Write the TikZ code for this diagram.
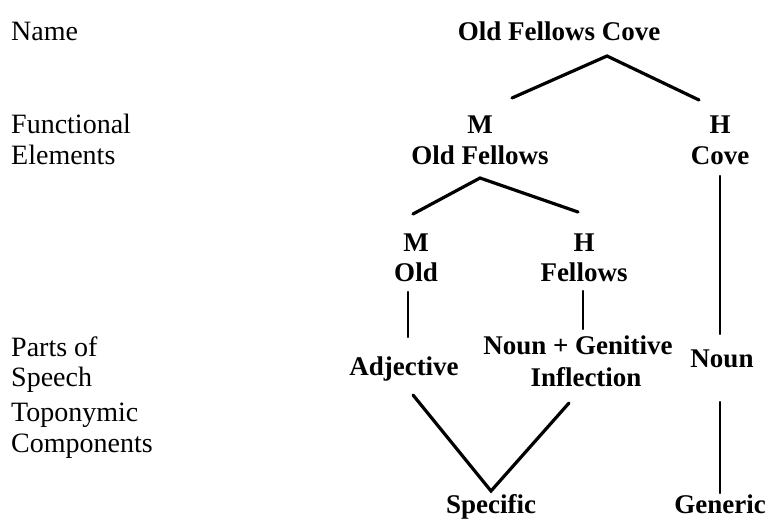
\documentclass[tikz,border=0pt]{standalone}
\usepackage{fontspec}
\setmainfont{Liberation Serif}
\usetikzlibrary{calc}
\begin{document}
\begin{tikzpicture}[x=1pt,y=-1pt,
  rowlabel/.style={anchor=base west,inner sep=0pt,font=\fontsize{28}{30}\selectfont},
  item/.style={anchor=base,inner sep=0pt,font=\fontsize{27}{29}\selectfont\bfseries},
  branch/.style={line width=3.2pt,line cap=round},
  stem/.style={line width=2.2pt,line cap=round}]
\useasboundingbox (0,0) rectangle (768,521);
% level labels
\node[rowlabel] (lname) at (11,41) {Name};
\node[rowlabel] (lfun1) at (11,134) {Functional};
\node[rowlabel] (lfun2) at (11,165) {Elements};
\node[rowlabel] (lpos1) at (11,356) {Parts of};
\node[rowlabel] (lpos2) at (11,386) {Speech};
\node[rowlabel] (ltop1) at (11,421) {Toponymic};
\node[rowlabel] (ltop2) at (11,452) {Components};
% tree
\node[item] (ofc) at (559,41) {Old Fellows Cove};
\node[item] (m1) at (480,134) {M};
\node[item] (of) at (480,165) {Old Fellows};
\node[item] (h1) at (720,134) {H};
\node[item] (cove) at (720,165) {Cove};
\node[item] (m2) at (416,252) {M};
\node[item] (old) at (416,281) {Old};
\node[item] (h2) at (584,252) {H};
\node[item] (fel) at (584,281) {Fellows};
\node[item] (adj) at (404,375) {Adjective};
\node[item] (ng) at (578,354) {Noun + Genitive};
\node[item] (infl) at (586,386) {Inflection};
\node[item] (noun) at (722,367) {Noun};
\node[item] (spec) at (491,513) {Specific};
\node[item] (gen) at (720,513) {Generic};
% connectors
\draw[branch] ($(ofc.base)+(-47,57)$) -- ($(ofc.base)+(48,15)$) -- ($(ofc.base)+(140,59)$);
\draw[branch] ($(m2.base)+(-3,-38)$) -- ($(of.base)+(0,13)$) -- ($(h2.base)+(-6,-40)$);
\draw[stem] ($(cove.base)+(0,11)$) -- ($(noun.base)+(-2,-33)$);
\draw[stem] ($(old.base)+(-8,11)$) -- ($(adj.base)+(4,-38)$);
\draw[stem] ($(fel.base)+(-1,10)$) -- ($(ng.base)+(5,-25)$);
\draw[branch] ($(adj.base)+(9,20)$) -- ($(spec.base)+(0,-22)$) -- ($(infl.base)+(-17,17)$);
\draw[stem] ($(noun.base)+(-2,35)$) -- ($(gen.base)+(0,-20)$);
\end{tikzpicture}
\end{document}
